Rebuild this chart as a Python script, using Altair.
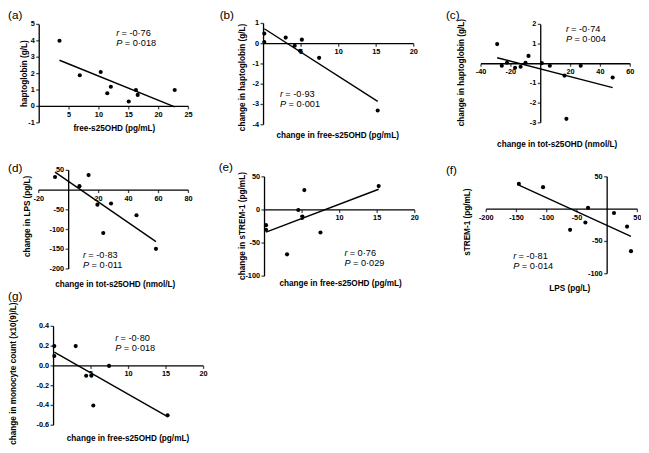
import altair as alt
import pandas as pd

W, H = 633, 437
KX, KY = W / 649, H / 453
FONT = "Liberation Sans"


def px(v):
    return v * KX


def py(v):
    return v * KY


# ---------------- data ----------------
tags = ["(a)", "(b)", "(c)", "(d)", "(e)", "(f)", "(g)"]
x_titles = [
    "free-s25OHD (pg/mL)",
    "change in free-s25OHD (pg/mL)",
    "change in tot-s25OHD (nmol/L)",
    "change in tot-s25OHD (nmol/L)",
    "change in free-s25OHD (pg/mL)",
    "LPS (pg/L)",
    "change in free-s25OHD (pg/mL)",
]
y_titles = [
    "haptoglobin (g/L)",
    "change in haptoglobin (g/L)",
    "change in haptoglobin (g/L)",
    "change in LPS (pg/L)",
    "change in sTREM-1 (pg/mL)",
    "sTREM-1 (pg/mL)",
    "change in monocyte count (x10(9)/L)",
]
r_vals = ["-0·76", "-0·93", "-0·74", "-0·83", "0·76", "-0·81", "-0·80"]
p_vals = ["0·018", "0·001", "0·004", "0·011", "0·029", "0·014", "0·018"]

a_x = [3.4, 6.8, 10.3, 11.4, 12.0, 15.0, 16.2, 16.5, 22.7]
a_y = [4.0, 1.9, 2.1, 0.8, 1.2, 0.3, 1.0, 0.7, 1.0]

b_x = [0.1, 0.1, 2.95, 4.15, 4.85, 5.1, 7.4, 15.2]
b_y = [0.5, 0.08, 0.3, -0.1, -0.35, 0.2, -0.7, -3.3]

c_x = [-29.2, -26.1, -22.6, -17.2, -13.5, -10.2, -8.2, 0.7, 6.1, 15.9, 17.2, 26.8, 48.2]
c_y = [1.0, -0.1, 0.05, -0.2, -0.15, 0.05, 0.4, 0.03, -0.1, -0.6, -2.8, -0.1, -0.7]

d_x = [-9.1, 7.2, 13.3, 19.2, 23.1, 28.3, 45.3, 58.3]
d_y = [33, 10, 38, -37, -109, -34, -64, -149]

e_x = [0.2, 0.2, 3.0, 4.5, 5.05, 5.3, 7.45, 15.2]
e_y = [-23, -30, -67, 0, -10, 30, -34, 36]

f_x = [-146, -106, -61.3, -36, -31.6, 11.3, 32.9, 39.4]
f_y = [39, 34, -32, -20.6, 2, -6, -27, -65]

g_x = [0.1, 0.1, 2.95, 4.35, 5.05, 5.3, 7.4, 15.2]
g_y = [0.2, 0.1, 0.2, -0.1, -0.1, -0.4, 0.0, -0.5]

xs_all = [a_x, b_x, c_x, d_x, e_x, f_x, g_x]
ys_all = [a_y, b_y, c_y, d_y, e_y, f_y, g_y]

x_domains = [[0, 25], [0, 20], [-40, 60], [-20, 80], [0, 20], [-200, 50], [0, 20]]
y_domains = [[-1, 5], [-4, 1], [-3, 2], [-200, 50], [-100, 50], [-100, 50], [-0.6, 0.4]]
x_ticks = [
    [5, 10, 15, 20, 25],
    [5, 10, 15, 20],
    [-40, -20, 20, 40, 60],
    [-20, 20, 40, 60, 80],
    [5, 10, 15, 20],
    [-200, -150, -100, -50, 50],
    [5, 10, 15, 20],
]
y_ticks = [
    [-1, 0, 1, 2, 3, 4, 5],
    [-4, -3, -2, -1, 0, 1],
    [-3, -2, -1, 1, 2],
    [-200, -150, -100, -50, 50],
    [-100, -50, 0, 50],
    [-100, -50, 50],
    [-0.6, -0.4, -0.2, 0.0, 0.2, 0.4],
]
y_tick_labels_g = ["-0.6", "-0.4", "-0.2", "0.0", "0.2", "0.4"]

# ---------------- layout (reference pixel positions) ----------------
X_ranges = [[32, 185], [262, 416], [485, 638], [31.5, 185], [263, 417], [490.3, 645.3], [46.7, 200.5]]
Y_ranges = [[119, 17], [121, 16], [119, 17], [270.5, 168.3], [278, 175], [275.5, 175], [432.5, 330]]
xt_pos = [(109, 125), (338, 133), (563, 142), (110, 287), (341, 286), (576, 291), (123, 447)]
yt_pos = [(17, 68), (241, 72), (465, 67), (21, 216), (241, 226), (472, 222), (6, 379)]
tag_pos = [(0, 7), (217, 7), (449, 7), (0, 166), (216, 165), (449, 168), (0, 299)]
rp_pos = [(111, 26), (279, 89), (572, 22), (77, 256), (345, 254), (518, 257), (110, 342)]

LW = 1.3
TICK = 3
LAB = 7.3
TITLE = 8.2
TXT = 9.2


def fmt(v):
    return str(int(v)) if float(v).is_integer() else str(v)


panels = []
for i in range(7):
    df = pd.DataFrame({"x": xs_all[i], "y": ys_all[i]})
    xd, yd = x_domains[i], y_domains[i]
    Xr, Yr = X_ranges[i], Y_ranges[i]

    xs = alt.Scale(domain=xd, range=[px(Xr[0]), px(Xr[1])], nice=False, zero=False)
    ys = alt.Scale(domain=yd, range=[py(Yr[0]), py(Yr[1])], nice=False, zero=False)

    def X(f):
        return alt.X(f, type="quantitative", scale=xs, axis=None)

    def Y(f):
        return alt.Y(f, type="quantitative", scale=ys, axis=None)

    # axis lines crossing at zero
    xline = alt.Chart(pd.DataFrame({"a": [xd[0]], "b": [xd[1]], "z": [0]})).mark_rule(
        color="black", strokeWidth=LW
    ).encode(x=X("a"), x2="b", y=Y("z"))
    yline = alt.Chart(pd.DataFrame({"a": [yd[0]], "b": [yd[1]], "z": [0]})).mark_rule(
        color="black", strokeWidth=LW
    ).encode(y=Y("a"), y2="b", x=X("z"))

    xt_df = pd.DataFrame({"v": x_ticks[i], "z": [0] * len(x_ticks[i]),
                          "lab": [fmt(v) for v in x_ticks[i]]})
    ylabs = y_tick_labels_g if i == 6 else [fmt(v) for v in y_ticks[i]]
    yt_df = pd.DataFrame({"v": y_ticks[i], "z": [0] * len(y_ticks[i]), "lab": ylabs})

    xticks = alt.Chart(xt_df).mark_tick(
        orient="vertical", size=TICK, thickness=LW, color="black", yOffset=TICK / 2
    ).encode(x=X("v"), y=Y("z"))
    yticks = alt.Chart(yt_df).mark_tick(
        orient="horizontal", size=TICK, thickness=LW, color="black", xOffset=-TICK / 2
    ).encode(y=Y("v"), x=X("z"))
    xlabels = alt.Chart(xt_df).mark_text(
        align="center", baseline="top", dy=TICK + 1.5, font=FONT, fontSize=LAB,
        fontWeight="bold", color="black"
    ).encode(x=X("v"), y=Y("z"), text="lab:N")
    ylabels = alt.Chart(yt_df).mark_text(
        align="right", baseline="middle", dx=-(TICK + 1.5), font=FONT, fontSize=LAB,
        fontWeight="bold", color="black"
    ).encode(y=Y("v"), x=X("z"), text="lab:N")

    pts = alt.Chart(df).mark_circle(size=17, color="black", opacity=1).encode(
        x=X("x"), y=Y("y")
    )
    fit = (
        alt.Chart(df)
        .transform_regression("x", "y")
        .mark_line(color="black", strokeWidth=1.4)
        .encode(x=X("x"), y=Y("y"))
    )

    one = pd.DataFrame({"k": [0]})

    def label(text, xp, yp, size, **kw):
        return alt.Chart(one).mark_text(
            text=text, font=FONT, fontSize=size, color="black", **kw
        ).encode(x=alt.value(xp), y=alt.value(yp))

    xtitle = label(x_titles[i], px(xt_pos[i][0]), py(xt_pos[i][1]), TITLE,
                   align="center", baseline="middle", fontWeight="bold")
    ytitle = label(y_titles[i], px(yt_pos[i][0]), py(yt_pos[i][1]), TITLE,
                   align="center", baseline="middle", fontWeight="bold", angle=270)
    tag = label(tags[i], px(tag_pos[i][0]), py(tag_pos[i][1]), 11.7,
                align="left", baseline="middle")

    rx, ry = rp_pos[i]
    ry2 = ry + 10.5
    r_it = label("r", px(rx), py(ry), TXT, align="left", baseline="middle", fontStyle="italic")
    r_rest = label("= " + r_vals[i], px(rx) + 5.2, py(ry), TXT, align="left", baseline="middle")
    p_it = label("P", px(rx), py(ry2), TXT, align="left", baseline="middle", fontStyle="italic")
    p_rest = label("= " + p_vals[i], px(rx) + 8.5, py(ry2), TXT, align="left", baseline="middle")

    panels.append(alt.layer(xline, yline, xticks, yticks, xlabels, ylabels, fit, pts,
                            xtitle, ytitle, tag, r_it, r_rest, p_it, p_rest))

chart = (
    alt.layer(*panels)
    .resolve_scale(x="independent", y="independent")
    .properties(width=W, height=H, autosize=alt.AutoSizeParams(type="none"), padding=0,
                background="white")
    .configure_view(stroke=None)
)

chart.save("out.html", embed_options={"renderer": "svg", "actions": False})
